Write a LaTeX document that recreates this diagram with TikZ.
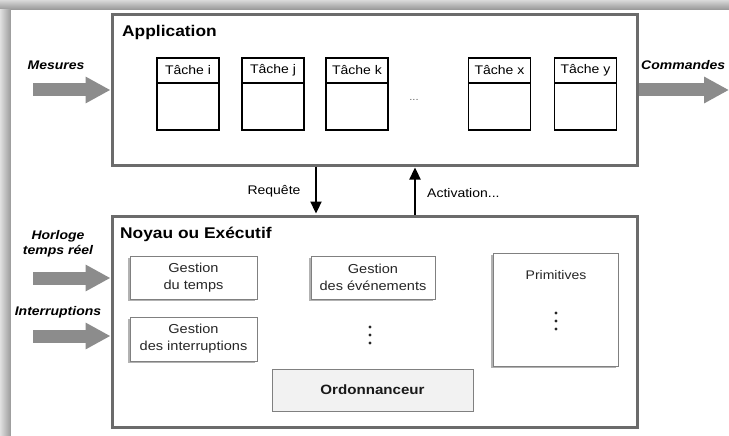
\documentclass[tikz,border=0pt]{standalone}
\usepackage{fontspec}
\setmainfont{Liberation Sans}[FakeStretch=1.12]
\usetikzlibrary{arrows.meta,shadows}

\begin{document}
\begin{tikzpicture}[x=1pt,y=-1pt,
  frame/.style={draw=black!58, line width=3pt},
  title/.style={font=\bfseries\fontsize{15.5}{18}\selectfont, anchor=base west, inner sep=0},
  task/.style={draw, line width=1.1pt, minimum width=62pt, minimum height=72pt, inner sep=0},
  taskhead/.style={draw, line width=1.1pt, minimum width=62pt, minimum height=25pt, inner sep=0,
    font=\fontsize{12.5}{14}\selectfont, anchor=north},
  gbox/.style={draw=black!50, fill=white, line width=1pt, inner sep=0, align=center,
    text=black!85, font=\fontsize{13}{17}\selectfont,
    general shadow={shadow xshift=-2pt, shadow yshift=-2pt, fill=black!30}},
  ordo/.style={draw=black!50, fill=black!5, line width=1pt, inner sep=0,
    text=black!90, font=\bfseries\fontsize{13.5}{16}\selectfont},
  lab/.style={font=\bfseries\itshape\fontsize{12.5}{15.5}\selectfont, align=center, inner sep=0},
  plain/.style={font=\fontsize{12.5}{15}\selectfont, inner sep=0, text=black!85},
  fat/.style={line width=13pt, draw=black!45, -{Triangle[length=25pt,width=25pt]}},
  slim/.style={line width=2.3pt, -{Triangle[length=12pt,width=11pt]}},
  dot/.style={fill=black!85}]
\useasboundingbox (0,0) rectangle (729,436);

% page frame with its soft shadow on top and left
\shade[top color=black!15, bottom color=black!42] (0,0) rectangle (729,10);
\shade[left color=black!12, right color=black!40] (0,10) rectangle (11,436);
\fill[white] (11,10) rectangle (729,436);

% Application layer
\node[frame, minimum width=525pt, minimum height=150pt, inner sep=0] (app) at (374.5,90) {};
\node[title] (apptitle) at (122,37) {Application};

\node[task] (ti) at (188,94) {};
\node[taskhead] (tih) at (ti.north) {Tâche i};
\node[task] (tj) at (273,94) {};
\node[taskhead] (tjh) at (tj.north) {Tâche j};
\node[task] (tk) at (357,94) {};
\node[taskhead] (tkh) at (tk.north) {Tâche k};
\node[font=\fontsize{10}{12}\selectfont, text=black!60] (tdots) at (414,100) {...};
\node[task] (tx) at (499.5,94) {};
\node[taskhead] (txh) at (tx.north) {Tâche x};
\node[task] (ty) at (585.5,94) {};
\node[taskhead] (tyh) at (ty.north) {Tâche y};

% Kernel layer
\node[frame, minimum width=525pt, minimum height=211pt, inner sep=0] (noyau) at (374.5,321.5) {};
\node[title] (noyautitle) at (120,238) {Noyau ou Exécutif};

\node[gbox, minimum width=127pt, minimum height=43pt] (gtemps) at (193.5,277.5) {Gestion\\du temps};
\node[gbox, minimum width=127pt, minimum height=44pt] (ginter) at (193.5,339) {Gestion\\des interruptions};
\node[gbox, minimum width=124pt, minimum height=43pt] (gevt) at (373,277.5) {Gestion\\des événements};
\node[gbox, minimum width=125pt, minimum height=113pt] (prim) at (555.5,309.5) {};
\node[plain] (primtxt) at (556,275) {Primitives};
\node[ordo, minimum width=201pt, minimum height=42pt] (ordo) at (372.5,390) {Ordonnanceur};

% vertical ellipses
\foreach \yy in {327,335,343} \fill[dot] (370,\yy) circle (1.7);
\foreach \yy in {313,321,329} \fill[dot] (556,\yy) circle (1.7);

% requests and activations between the layers
\coordinate (rq) at (316,0);
\coordinate (ac) at (415,0);
\draw[slim] (app.south -| rq) -- ([yshift=1pt]noyau.north -| rq);
\draw[slim] (noyau.north -| ac) -- ([yshift=-1pt]app.south -| ac);
\node[plain, text=black] (reqlab) at (274,191) {Requête};
\node[plain, text=black, anchor=west] (actlab) at (427,193) {Activation...};

% external inputs and outputs
\coordinate (mes) at (33,90);
\coordinate (cmd) at (729,90);
\coordinate (hor) at (33,278);
\coordinate (itr) at (33,336);
\draw[fat] (mes) -- (mes -| app.west);
\draw[fat] (app.east |- cmd) -- (cmd);
\draw[fat] (hor) -- (hor -| noyau.west);
\draw[fat] (itr) -- (itr -| noyau.west);

\node[lab] (meslab) at (56,65) {Mesures};
\node[lab, anchor=west] (cmdlab) at (641,65) {Commandes};
\node[lab] (horlab) at (58,244) {Horloge\\temps réel};
\node[lab] (itrlab) at (58,312) {Interruptions};
\end{tikzpicture}
\end{document}
